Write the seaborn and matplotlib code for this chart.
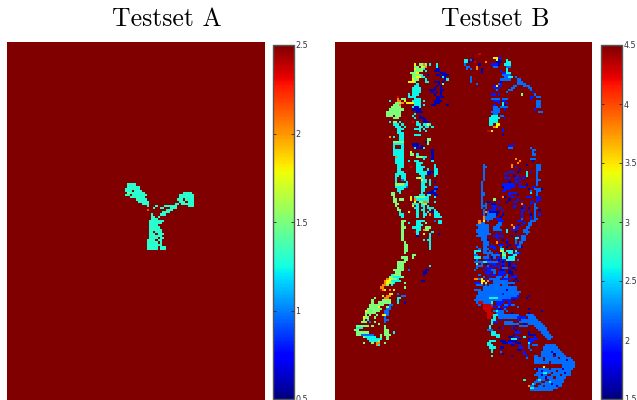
import numpy as np
import pandas as pd
import matplotlib
matplotlib.use("Agg")
import matplotlib.pyplot as plt
import seaborn as sns

n_rows, n_cols = 167, 120

titles = ["Testset A", "Testset B"]
ranges = [(0.5, 2.5), (1.5, 4.5)]
ticks_a = [0.5, 1, 1.5, 2, 2.5]
ticks_b = [1.5, 2, 2.5, 3, 3.5, 4, 4.5]

# error level of each letter used in the row strings below
levels_a = {"C": 1.3, "G": 1.45, "O": 2.15}
levels_b = {"D": 1.65, "M": 1.95, "B": 2.2, "C": 2.6, "G": 3.0,
            "Y": 3.45, "O": 3.8, "R": 4.3, "X": 4.5}

# row, then "level+first col-last col" runs; everything else is at the top of the scale
testset_a = [
    (66, "C56-59"), (67, "C56-61"), (68, "C55-61"), (69, "C55-57 C59-62"),
    (70, "G56 C57-63"), (71, "C55-56 C58-64"), (72, "C57-63"), (73, "C60-64"),
    (74, "C61-65"), (75, "C63-65"), (76, "C65 C69 C73-77 C78 C84-86"),
    (70, "C82-85"), (71, "C80-86"), (72, "C80-86"), (73, "C79-81 C83-86"),
    (74, "C80-82 C84-86"), (75, "C78-79 C81-86"),
    (77, "C68 C71-72 C76-78"), (78, "O65 C74-76"), (79, "C72-75"),
    (80, "C67 C71-73"), (81, "C67-68 C70"), (82, "C67-69"), (83, "C66-69 C70-72"),
    (84, "C66-70 C71"), (85, "C66-69"), (86, "C66-70"), (87, "C66-71"),
    (88, "C66-67 C69-71"), (89, "C66-68 C70-72"), (90, "C66-71"),
    (91, "C66-69 C71-72"), (92, "C65-68 C70-71"), (93, "C65-69 C71"),
    (94, "C65-71"), (95, "C65-69 C71-73"), (96, "C65-69 C71-73"),
]

left_limb = [
    (10, "Y37 G39-40 O41 G42 C44 C47"), (11, "G37-38 Y40 G41 O42 C47"),
    (12, "Y37 G38-40 C41 D47-48"), (13, "G37-40 C42 D46-48"),
    (14, "G35-37 Y38 D49-51"), (15, "G36-39 C40 D43 D47-48 D50-52"),
    (16, "G36-37 Y38-39 C40-41 D49 C50 D51"), (17, "Y36 G37-38 C42 D51 C52"),
    (18, "Y34-36 G37 C42-43 D46-48 D50"), (19, "C38 D48 G50"),
    (20, "C37-38 D47 D49"), (21, "C36-39 D46 D49"), (22, "C36-39 D44-46 D49-50"),
    (23, "C36-39 D45 D47 D49"), (24, "C34 C36-38 D46 D49"),
    (25, "R29 C34-37 D47-50"), (26, "O29 G31-32 C37-39 D47-48"),
    (27, "C25 O29-30 Y32 C36-39 C41 D46-49"), (28, "G28-30 O31 Y33-36 C37-39 D46-48"),
    (29, "G27-29 O30 C37-39 C41 D45-46 D52"), (30, "G26-30 C36 D37-38 C39"),
    (31, "G25-31 D36-39"), (32, "G24-30 D38-40"), (33, "G24-26 G27-30 C37"),
    (34, "G24-25 G26 G28-30 C36 D39"), (35, "G27-29 C37 D39-41"), (36, "D41-42"),
    (37, "C25 G27-28 C30 R36 C38 D41-43"), (38, "C27-29 C31 C38-39 C41-42 Y43 C44"),
    (39, "C28-30 C32 C39-40 C42-43 C45"), (40, "C29-31 C37-39 C41"),
    (41, "C29-30 C39 C42"), (42, "C29-31"), (43, "C30-31 C37-39"),
    (44, "O25 C27 C30-31"), (45, "C30-31 G43-44"), (46, "G27-31 D42 G43"),
    (47, "C27-31 D36-38 G43"), (48, "C27 C31 D36-38 D40"),
    (49, "C27 C31 C37 D38-40 C41"), (50, "C27-31 D45"), (51, "C27-31 Y35 D45"),
    (52, "C27-31 G35-36 C38 D45"), (53, "O28 C29-31 G38-40 C41-42 D45"),
    (54, "C28-31 C41 D45"), (55, "C28-31 C34 C37-38 C45"), (56, "C28-31 C38-40"),
    (57, "C29-31 C38-39 C46"), (58, "C29-31 R35 C38-41 C46"),
    (59, "C29-30 C38-40 C43 C46-47"), (60, "C29-31 C38-42 D43-45 C46-47"),
    (61, "C28-32 C39-42 D43-44 C46-47"), (62, "C28-29 C31-32 C40-41 C46"),
    (63, "C28 C31-32 G38 Y39 C40-41"), (64, "C28 B31 C32 Y40 C41-42 C44"),
    (65, "C28 C33 C40-42 C44 D46"), (66, "G28-31 C32-33 C40-41 C44"),
    (67, "C28-32 B33 C40-42 B46-47"), (68, "C29-31 C40-41 D46-47"),
    (69, "C29-30 C40-41 D45 B46"), (70, "G26-27 C30 C40 D43-46"),
    (71, "G26-27 C39-41 C43-44 D46-47"), (72, "G27 Y35 C37 G38-41 C42-43 C46"),
    (73, "G27-28 G30-31 Y35 O37 C38-43"), (74, "G27-28 Y37 G39-40 O41-42 C43 C46"),
    (75, "G28-29 C36-38 C40 G41-42"), (76, "G28 Y36 C38 C40-41 C43"),
    (77, "G29 C37-38 C41 C43-45"), (78, "G29-30 C38 C40-41 C44 C46"),
    (79, "C30 Y34 C38 C41 C43 D45 C46-47"), (80, "C30-31 C38 C41-42 O44 C46-48"),
    (81, "C31 C38 C41 C46-49"), (83, "G31-32 C38-41 B46 C48-49"),
    (84, "G31 C34 C38-39 G42 C48-49"), (85, "G31 C38-40"),
    (86, "G31-32 C36-39 G42-44"), (87, "G31 C38-39 O41 G42-43"),
    (88, "G31 R37 C38 C45"), (89, "G31 C38 Y41 C44 D48"), (90, "G31 D38 C44"),
    (91, "G31 C44"), (92, "G31 C41 C43-44"), (93, "G32 C44"), (94, "G32-33 C44"),
    (95, "G32-33 C44"), (96, "G32-33 C44"), (97, "G32-33"), (98, "G32"),
    (99, "G36-37"), (100, "G31-33 G36"), (101, "G32-33"), (102, "G29-32"),
    (103, "G29-31"), (104, "G29-31 C44"), (105, "G29-31"),
    (106, "G27-31 B34 D42-43"), (107, "G28-30 D41-42"), (108, "C26 G27-30 D41"),
    (109, "G25-26 C27-30 G31"), (110, "O24 Y25 G26-28 C29"),
    (111, "O23 Y24-25 C26-30 D40-41"), (112, "O23 Y24 G25-26 C27 G32"),
    (113, "O22-23 G24 C26"), (114, "O21-22 G32"), (115, "R21 O22 Y23 O25 Y27"),
    (117, "Y25-26 B29"), (118, "Y22 O24-25 B31-32"), (119, "G18 O23-24 C29-30"),
    (120, "G17 G22-25 C29"), (121, "G17 G20-25 C29 D32"), (122, "G16-22 B25-26"),
    (123, "G16-19 Y20 G24 B25"), (124, "G15-21 B24-25"), (125, "Y14 G15-20 B23-24"),
    (126, "G14-18 B23-24"), (127, "G14 G16 G19 Y22-23 B24"),
    (128, "Y13 G14-15 G18 B23"), (129, "G13 C15 B23-24"), (130, "G12-14 B16 G18 B23"),
    (131, "G20"), (132, "G10-15 G17 G23"), (133, "C10-12 G23"), (134, "G9-10 G23-24"),
    (135, "G10-15 G23-24 C27"), (136, "G10-11 B12-17 G21 G23-25"),
    (137, "G13 C14-18 G21 G24"), (138, "C15-20 C21 G24"), (139, "C16-19 G20"),
    (140, "G13 G17 O19-20 G23"), (141, "O19 C20"),
]

# solid blue patches of the right limb, drawn first
right_patches = [
    (85, "B67-70"), (86, "B67-70"), (87, "B67-70"), (88, "B68-70"), (89, "B68-70"),
    (90, "B69-70"), (91, "B69-70"), (92, "B69-71"), (93, "B69-71"), (94, "B69-71"),
    (114, "B69-84"), (115, "B69-84"), (116, "B67-86"), (117, "B67-85"),
    (118, "B66-84"), (119, "B66-82"), (125, "B75-78"), (126, "B75-78"),
    (127, "B74-85 B89-92"), (128, "B76-84 B90-93"), (129, "B90-94"), (130, "B91-95"),
    (131, "B92-96"), (132, "B93-97"), (133, "B94-98"), (134, "B95-98"), (135, "B96-99"),
    (136, "B97-100"), (137, "B98-101"), (141, "B98-102"), (142, "B97-103"),
    (143, "B97-104"), (144, "B96-105"), (145, "B96-106"), (146, "B93-94 B96-107"),
    (147, "B93-96 B98-109"), (148, "B93-96 B98-110"), (149, "B93-111"),
    (150, "B106-111"), (151, "B106-111"), (152, "B93-110"), (153, "B95-109"),
    (154, "B94-109"), (155, "B93-109"), (156, "B94-107"), (157, "B94-106"),
    (158, "B93-106"), (159, "B92-105"), (160, "B91-105"), (161, "B91-103"),
    (162, "B91-101"),
]

right_limb = [
    (5, "R67"), (7, "Y74-75 M76-77"), (8, "C60-61 B63 D64 Y75 D76 C80"),
    (9, "C60-61 D62 R65 O70 D75-77 C80-81"), (10, "B60 D67 M73-75 D76 C79-81"),
    (11, "B61-62 O66 B74-75 B80-81"), (12, "B61 B63 O66 D68 C80"), (13, "D68 M77 C80"),
    (14, "D68 M78-79 C80-81"), (15, "B78-79 B80-81"), (16, "B63 B79-80 C81-82 B84"),
    (17, "B63 B77-81 B85-86"), (18, "B63 D77 B85-87"), (19, "B66 B76 M77 B85-88"),
    (20, "M74 Y75 M77 B83-84 B88-90"), (21, "M74-76 B82-83 B90-91"),
    (22, "B75 B81-82 B91"), (23, "B80 M92"), (24, "M73-74 M76 G87 B93"),
    (25, "M91-92 B94-95"), (26, "B73-76 B78-80 M91"), (27, "M74-76 M78-79 B94-95"),
    (28, "M76 C78 M80 B94-95"), (29, "M74 C78 D79 B94-95"), (30, "B74-75 B77-80 B94-95"),
    (31, "B74-76 M79 M93"), (32, "B73-76 B95-96"), (33, "B74-75"), (34, "C73-75 B77-78"),
    (35, "C72-76 M79"), (36, "C72-75"), (37, "C72-75"), (38, "C72-73 Y75-76"),
    (39, "O74 Y75"), (40, "M78"), (41, "R71-72 Y73 M78"), (43, "D78"), (47, "M83"),
    (48, "M81-82"), (49, "B81-82 B91"), (50, "B92-93"), (51, "B92"), (52, "B92-93"),
    (54, "O84 B91-93"), (55, "O86 D92"), (56, "O85"), (57, "B69 O82 D89 B94-95"),
    (58, "B69-70 O82 M84 B94-95"), (59, "B69 D86 B94-95"),
    (60, "B69 M81-83 D85 C89 M91 B94"), (61, "B69 M79-80 C89 B94"),
    (62, "B69 D83 M85 C89 B94"), (63, "B69 M79-81 M84-85 M87-88 B94"),
    (64, "B69 M84 M86 B94-95"), (65, "B68 D81 M84-85 B94"),
    (66, "B68 M78-83 M86 D89 B94"), (67, "B68 D78 M79-83 M86-88 M92-93"),
    (68, "B68 M79-81 D90 B93-95 D96"), (69, "B68 M78-79 B91 B94-95"),
    (70, "B68-69 M81-84 C91 B94"), (71, "B68-69 M81 D85 B94"),
    (72, "B68 O78 D79 M82-83 M89-91 M94-95"), (73, "B68 G74 D81 M85 M94-95"),
    (74, "B68 D71-72 M76 D80 M83-84 M87 M91-92 M94"), (75, "B68 B70 D73-74 O87 M91 B93"),
    (76, "B68-70 M73-75 M83-84 M88 B93"), (77, "B68 B70 M74 M76-77 M83 D87 D90 B93-94"),
    (78, "B69 M72-74 M78 M87-88 B93 D95"), (79, "B69 O70 B71 D72-76 M87 M90 B93"),
    (80, "B69 B71-74 D75 D78 M87 D91 B93 M95"), (81, "O69 B70-74 D77 M87 M91 B93"),
    (82, "O69 B70-73 M75-77 B87 M91 B93-94"), (83, "O67 Y69 B71 M76-78 M85-87 B91-93"),
    (84, "O67 B68-69 B76-77 M88 B90-91"), (85, "B66-71 B75-77 O82 D85 M87 B90-91"),
    (86, "B67-71 B74-76 O83 M84-85 B89-90"), (87, "B66-71 B74-77 C80 M82-84 B88-89"),
    (88, "B66-71 M77 C80 D84 B88-90"), (89, "B67-72 M75 B89"),
    (90, "B66-70 M74-78 D82 M85 B87-88"), (91, "B68-70 M75 C84-85 B87-88"),
    (92, "B68-69 D71 M76 D78 M80 B84 B87-88"), (93, "B69 O75 D80 B84 B86-87"),
    (94, "B69 M73 M76-78 D81 M84-85 B86"), (95, "B66 B69-70 M72-74 B77 D80 B85-86 D87"),
    (96, "B67 B69-71 M74 C77-78 D82 M85"), (97, "C65-67 B69-70 B72 Y77 G78 C80-82 C84"),
    (98, "C65 B69-73 M75 D77 G78 C79 C81-82 B84-85 M86"),
    (99, "B65-66 B71 B73-76 G78-79 M82 C83-84"),
    (100, "C65-67 B69-71 D73 B74 M76 C78-79 C81-83"),
    (101, "B66 M70-72 M75 D76 M77-79 C80-83 B85"),
    (102, "B65-68 C69-70 B71-75 M76 D78 D81"), (103, "G66 B68 D70 M72-74 M77-79 D81 M83"),
    (104, "B66-68 B71 M74-76 D78 D81 M83-84"), (105, "B66 M70-73 M76 B78-80 D82-83"),
    (106, "B65 M69 M71-72 B73-74 D77-78 D81 D84"), (107, "M70-72 B74 M76-79 D81-82"),
    (108, "B67 M71 M73-74 M76-78 B80 D82 M84"), (109, "B69 M72 B75-77 B79-80 M82-84"),
    (110, "O65-66 B67 Y68 M70 B72-76 M78-81 D84"), (111, "Y68-69 O71 M72 B74-80 D83 D85"),
    (112, "M65-67 Y68 G70 B74-83"), (113, "B66-68 B70 B72-76 B78-80 D82"),
    (115, "B65-67 D80"), (117, "M78"), (118, "M85 D90"),
    (119, "C72-75 M82-85 D89"), (120, "B65-77 M78-81 D83"),
    (121, "B66 R67-68 B69-72 C73 M75-78 M81"),
    (122, "B67 R69-72 B73 M75-77 B79-80 M81 B82-83"), (123, "R69-73 M74 B76 M78-80 B85"),
    (124, "R69-72 M75 D76-77 B79 D90"), (125, "R70-72 B74 C75 B80 D96"),
    (126, "R71-73 D82 D90"), (127, "R71-73 C74-75"),
    (128, "R71-72 C74 M85-88"), (129, "C73-74 M77 M85 B87-90"),
    (130, "C73 M74-75 B79-82 B86-90"), (131, "C73 B79-85 D88 B90-92"),
    (132, "C72 D84 B86-89"), (133, "C72 D76 M78 M82 D83"),
    (134, "B71-73 D84"), (135, "C73-74 M84-86 D90"),
    (136, "C73-76 D83 D90-93"), (137, "C75-76 D81-82 M84-85 C88 M93"),
    (138, "C82-84 D86 D90 M91-94 B99-100"), (139, "C72-74 D77-79 D81-84 M90-92"),
    (140, "C71-72 D78-80 M81-82 D84-86 C90 M91"), (141, "C71-73 D82-83 M86 B90 B92-94"),
    (142, "C72-74 D77-78 M86-87 B90"), (143, "C73 D85-86 B91"), (144, "C73 B77 M88 D101"),
    (145, "D78 M88 D102"), (146, "C73 D82 M89 X95 X102"), (147, "B89 X97 X104"),
    (148, "X97 D108"), (149, "X100"), (150, "X93-105"), (151, "X93-96 Y97 X98-105"),
    (152, "D94 X100 D106"), (153, "D96 X103"), (154, "C97-98 X101 D107"),
    (155, "D96 X99-100 X105"), (156, "X94 D98 X102"), (157, "C88 C95 X98-99"),
    (158, "X96-97 C100"), (159, "C92 X94-95 D101"), (160, "O90 X93-94 X97 D103"),
    (161, "C91-92"),
]


def build_grid(rows, levels, top):
    grid = np.full((n_rows, n_cols), top, dtype=float)
    for row, text in rows:
        for run in text.split():
            first, _, last = run[1:].partition("-")
            grid[row, int(first):int(last or first) + 1] = levels[run[0]]
    return pd.DataFrame(grid)


grids = [build_grid(testset_a, levels_a, ranges[0][1]),
         build_grid(right_patches + left_limb + right_limb, levels_b, ranges[1][1])]

W, H = 637, 400
fig = plt.figure(figsize=(W / 100, H / 100), dpi=100)

# left, right of image and colorbar in pixels, then centre of the title
spots = [(7, 265, 272.5, 293.5, 167), (335, 592, 601, 622, 495)]

for i in range(2):
    x0, x1, cx0, cx1, tx = spots[i]
    ax = fig.add_axes([x0 / W, 0, (x1 - x0) / W, 358 / H])
    cax = fig.add_axes([cx0 / W, 1 / H, (cx1 - cx0) / W, 354 / H])
    sns.heatmap(grids[i], ax=ax, cbar_ax=cax, cmap="jet",
                vmin=ranges[i][0], vmax=ranges[i][1],
                xticklabels=False, yticklabels=False)
    ax.collections[0].set_antialiased(False)
    fig.text(tx / W, 1 - 26 / H, titles[i], ha="center", va="baseline",
             family="cmr10", fontsize=18.5)

    cbar = ax.collections[0].colorbar
    ticks = ticks_a if i == 0 else ticks_b
    cbar.set_ticks(ticks)
    cbar.set_ticklabels(["%g" % t for t in ticks])
    cax.tick_params(axis="y", which="both", direction="in", length=2.5, width=0.6,
                    left=True, right=True, labelsize=5.8, pad=1.5,
                    color="#222233", labelcolor="#333344")
    cbar.outline.set_visible(True)
    cbar.outline.set_edgecolor("#555555")
    cbar.outline.set_linewidth(1.0)

plt.savefig("out.png", dpi=100)
